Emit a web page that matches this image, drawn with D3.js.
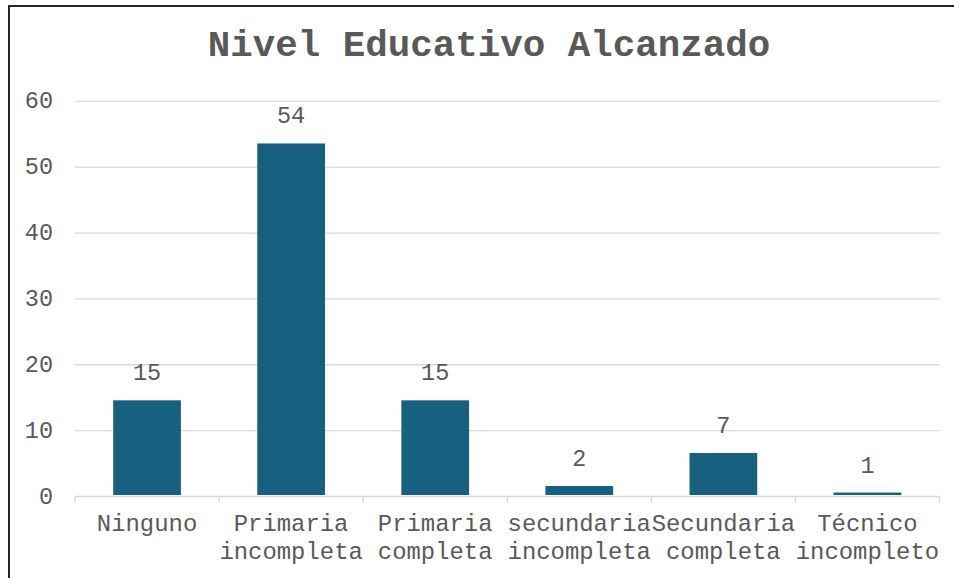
<!DOCTYPE html>
<html>
<head>
<meta charset="utf-8">
<script src="https://cdn.jsdelivr.net/npm/d3@7"></script>
<style>
  html, body { margin: 0; padding: 0; background: #ffffff; }
  svg { display: block; }
  text { font-family: "Liberation Mono", "Courier New", monospace; fill: #595959; }
</style>
</head>
<body>
<svg id="chart" width="959" height="578"></svg>
<script>
const title = "Nivel Educativo Alcanzado";
const categories = ["Ninguno", "Primaria incompleta", "Primaria completa", "secundaria incompleta", "Secundaria completa", "Técnico incompleto"];
const categoryLines = [["Ninguno"], ["Primaria", "incompleta"], ["Primaria", "completa"], ["secundaria", "incompleta"], ["Secundaria", "completa"], ["Técnico", "incompleto"]];
const values = [14.6, 53.6, 14.6, 1.6, 6.6, 0.6];
const yTicks = [0, 10, 20, 30, 40, 50, 60];

const svg = d3.select("#chart");

// outer frame (partially visible)
svg.append("path")
  .attr("d", "M9,578 L9,6 L954,6")
  .attr("fill", "none")
  .attr("stroke", "#262626")
  .attr("stroke-width", 2);

const x = d3.scaleBand()
  .domain(categories)
  .range([75, 939.5])
  .paddingInner(0.53)
  .paddingOuter(0.265);

const y = d3.scaleLinear().domain([0, 60]).range([496.5, 101.3]);

// gridlines
svg.append("g").selectAll("line")
  .data(yTicks.filter(t => t > 0))
  .join("line")
  .attr("x1", 75).attr("x2", 939.5)
  .attr("y1", d => y(d)).attr("y2", d => y(d))
  .attr("stroke", "#d9d9d9").attr("stroke-width", 1.3);

// y tick labels
svg.append("g").selectAll("text")
  .data(yTicks)
  .join("text")
  .attr("x", 53)
  .attr("y", d => y(d))
  .attr("dy", "0.3em")
  .attr("text-anchor", "end")
  .style("font-size", "23.5px")
  .text(d => d);

// bars
svg.append("g").selectAll("rect")
  .data(values)
  .join("rect")
  .attr("x", (d, i) => x(categories[i]))
  .attr("width", x.bandwidth())
  .attr("y", d => y(d))
  .attr("height", d => y(0) - y(d) - 1.5)
  .attr("fill", "#17607f");

// x axis line + ticks
const step = x.step();
const left = 75;
svg.append("line")
  .attr("x1", left).attr("x2", 939.5)
  .attr("y1", y(0)).attr("y2", y(0))
  .attr("stroke", "#d9d9d9").attr("stroke-width", 1.3);
svg.append("g").selectAll("line")
  .data(d3.range(categories.length + 1))
  .join("line")
  .attr("x1", i => left + i * step).attr("x2", i => left + i * step)
  .attr("y1", y(0)).attr("y2", y(0) + 6)
  .attr("stroke", "#d9d9d9").attr("stroke-width", 1.3);

// data labels
svg.append("g").selectAll("text")
  .data(values)
  .join("text")
  .attr("x", (d, i) => x(categories[i]) + x.bandwidth() / 2)
  .attr("y", d => y(d) - 20)
  .attr("text-anchor", "middle")
  .style("font-size", "23.5px")
  .text(d => Math.round(d));

// category labels
const catG = svg.append("g").selectAll("text")
  .data(categoryLines)
  .join("text")
  .attr("x", (d, i) => x(categories[i]) + x.bandwidth() / 2)
  .attr("text-anchor", "middle")
  .style("font-size", "23.9px");
catG.selectAll("tspan")
  .data(d => d)
  .join("tspan")
  .attr("x", function () { return d3.select(this.parentNode).attr("x"); })
  .attr("y", (d, j) => 531 + j * 28)
  .text(d => d);

// title
svg.append("text")
  .attr("x", 489)
  .attr("y", 56)
  .attr("text-anchor", "middle")
  .style("font-size", "37.5px")
  .style("font-weight", "bold")
  .text(title);
</script>
</body>
</html>
